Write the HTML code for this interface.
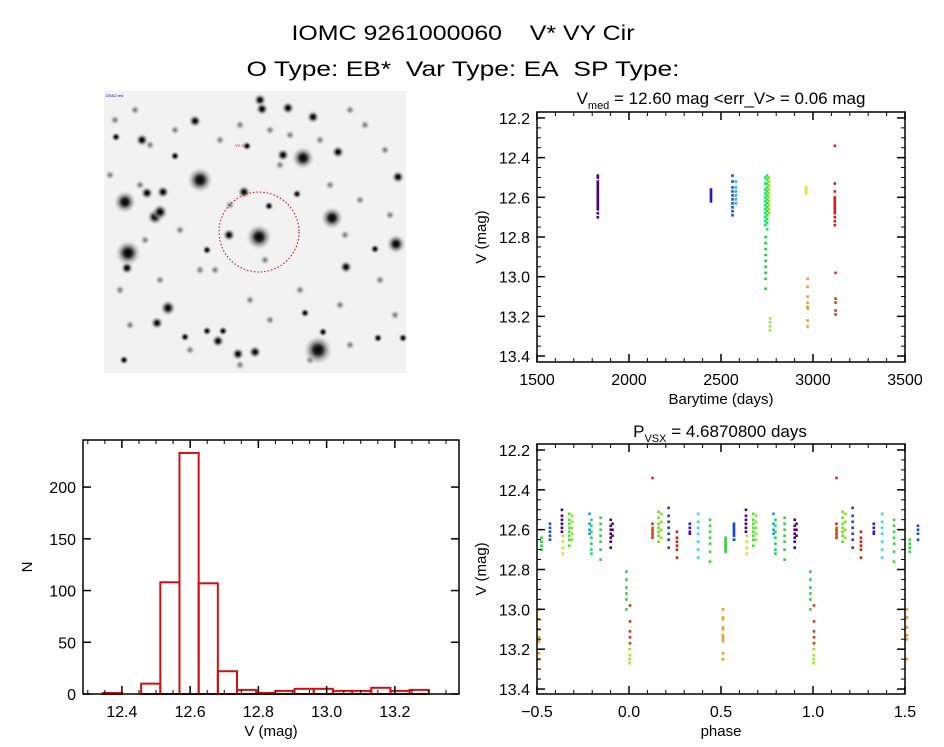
<!DOCTYPE html>
<html><head><meta charset="utf-8"><style>
html,body{margin:0;padding:0;background:#fff;}
svg{display:block;font-family:"Liberation Sans",sans-serif;}
</style></head><body>
<svg id="root" width="944" height="747" viewBox="0 0 944 747">
<text x="463" y="40" font-size="21" text-anchor="middle" textLength="343" lengthAdjust="spacingAndGlyphs">IOMC 9261000060&#160;&#160;&#160; V* VY Cir</text>
<text x="463" y="76" font-size="21" text-anchor="middle" textLength="433" lengthAdjust="spacingAndGlyphs">O Type: EB*&#160; Var Type: EA&#160; SP Type:</text>

<g>
<defs><radialGradient id="sg"><stop offset="0" stop-color="#000"/><stop offset="0.3" stop-color="#222"/><stop offset="0.65" stop-color="#888" stop-opacity="0.6"/><stop offset="1" stop-color="#ccc" stop-opacity="0"/></radialGradient>
<radialGradient id="fg"><stop offset="0" stop-color="#666"/><stop offset="0.5" stop-color="#999" stop-opacity="0.6"/><stop offset="1" stop-color="#ddd" stop-opacity="0"/></radialGradient></defs>
<rect x="104" y="91" width="302" height="282" fill="#f2f2f2"/>
<g id="stars"></g>
<circle cx="259" cy="232" r="40" fill="none" stroke="#c00" stroke-width="1" stroke-dasharray="1.5 2"/>
<text x="106" y="97" font-size="4" fill="#00a">DSS2 red</text>
<text x="235" y="147" font-size="4" fill="#c00">VY Cir</text>
</g>

<g id="p1"></g>
<g id="p2"></g>
<g id="p3"></g>
</svg>
<script>
// ---- data ----
const starX=[200,303,125,155,160,128,259,332,396,318,168,283,260,262,288,313,195,163,147,127,229,244,297,218,238,255,185,157,207,223,305,346,375,398,338,323,378,403,142,175,207,247,269,116,124];
const starY=[180,158,202,217,212,253,237,218,244,350,308,155,100,109,108,117,121,192,193,268,235,192,194,341,354,352,337,323,331,331,313,267,249,177,152,332,338,338,140,156,250,146,206,137,360];
const starR=[8,7,7,5,5,8,8,7,6,9,5,4,4,4,4,4,4,4,4,4,4,4,3,4,4,4,3,4,3,3,3,4,3,4,4,3,3,3,4,3,3,3,3,3,3];
const faintX=[115,135,150,175,220,240,270,290,320,350,365,385,110,140,180,230,280,330,360,390,120,160,200,250,300,340,380,130,190,240,270,310,350,395,145,215,265,345];
const faintY=[120,110,145,130,140,125,130,135,140,110,125,150,175,185,230,205,165,185,200,215,290,280,270,300,290,305,280,325,350,365,320,360,345,315,240,270,260,235];

const lcGroupT=[1830,2445,2562,2580,2740,2750,2760,2742,2766,2962,2970,3118,3122];
const lcGroupMags=[
 [12.49,12.50,12.52,12.53,12.54,12.55,12.56,12.57,12.58,12.59,12.60,12.61,12.62,12.63,12.64,12.65,12.66,12.68,12.70],
 [12.56,12.57,12.58,12.59,12.60,12.61,12.62],
 [12.49,12.52,12.55,12.57,12.59,12.61,12.63,12.65,12.67,12.69],
 [12.52,12.55,12.57,12.59,12.61,12.63],
 [12.50,12.53,12.56,12.58,12.60,12.62,12.64,12.66,12.68,12.70,12.72,12.74],
 [12.49,12.51,12.53,12.55,12.57,12.59,12.61,12.63,12.65,12.67,12.69,12.71,12.73,12.76],
 [12.50,12.52,12.54,12.56,12.58,12.60,12.62,12.64,12.66,12.68],
 [12.80,12.83,12.86,12.89,12.92,12.95,12.98,13.01,13.06],
 [13.21,13.23,13.25,13.27],
 [12.55,12.56,12.57,12.58],
 [13.01,13.05,13.10,13.13,13.15,13.16,13.22,13.25],
 [12.34,12.53,12.57,12.60,12.61,12.62,12.63,12.64,12.65,12.66,12.67,12.68,12.70,12.72,12.74],
 [12.98,13.11,13.13,13.17,13.19]
];
const lcGroupColor=["#4a0078","#2a18c0","#1050d8","#30a8f0","#20d8a0","#30e040","#90e020","#20d040","#a0e040","#e8e020","#e8a030","#d82010","#c04020"];

const phGroupP=[-0.476,-0.43,-0.365,-0.36,-0.325,-0.31,-0.215,-0.205,-0.155,-0.10,-0.09,-0.015,0.003,0.005,-0.49,0.127,0.128,0.16,0.175,0.215,0.26,0.33,0.375,0.44,0.525,0.51,0.57];
const phGroupMags=[
 [12.64,12.66,12.68,12.70],
 [12.57,12.59,12.61,12.63,12.65],
 [12.50,12.53,12.55,12.57,12.59,12.61],
 [12.63,12.66,12.69,12.72],
 [12.52,12.55,12.57,12.59,12.61,12.63,12.65,12.68],
 [12.53,12.56,12.59,12.62,12.65],
 [12.52,12.57,12.60,12.62],
 [12.55,12.58,12.61,12.64,12.67,12.70,12.72],
 [12.54,12.57,12.60,12.63,12.66,12.70,12.75],
 [12.55,12.58,12.60,12.62,12.64,12.66,12.69],
 [12.57,12.60,12.63],
 [12.81,12.85,12.89,12.92,12.95,13.00],
 [13.20,13.23,13.25,13.27],
 [12.98,13.06,13.11,13.14,13.17],
 [13.00,13.05,13.10,13.14,13.16,13.22,13.25],
 [12.34,12.57,12.60,12.62,12.64],
 [12.59,12.61,12.63],
 [12.51,12.54,12.57,12.59,12.61,12.63,12.66],
 [12.52,12.56,12.60,12.64],
 [12.49,12.53,12.56,12.59,12.62,12.65,12.69],
 [12.61,12.64,12.66,12.68,12.70,12.74],
 [12.57,12.59,12.61,12.62],
 [12.52,12.56,12.59,12.62,12.66,12.70,12.74],
 [12.55,12.58,12.61,12.64,12.67,12.71,12.76],
 [12.65,12.67,12.69,12.71],
 [13.00,13.04,13.09,13.13,13.15,13.25],
 [12.58,12.60,12.62,12.65]
];
const phGroupColor=["#30d040","#1848d0","#4a0078","#c8e040","#50e040","#90e030","#2090f0","#30d060","#30d040","#4a0078","#600080","#30d040","#a0e040","#c04020","#e8a030","#d83010","#e06020","#60e030","#90e020","#1848c0","#d82010","#3a10b0","#30e0d0","#40d040","#40d040","#e8a030","#1848d0"];

const histEdgeStart=12.344, histBinW=0.0562;
const histCounts=[1,0,10,108,233,107,22,4,1,3,5,5,3,3,6,3,4];

const NS="http://www.w3.org/2000/svg";
function el(tag,attrs,parent){const e=document.createElementNS(NS,tag);for(const k in attrs)e.setAttribute(k,attrs[k]);parent.appendChild(e);return e;}

// stars
const sg=document.getElementById('stars');
for(let i=0;i<faintX.length;i++){
 const c=el('circle',{cx:faintX[i],cy:faintY[i],r:5,fill:'url(#fg)'},sg);
 
 
}
for(let i=0;i<starX.length;i++){
 const c=el('circle',{cx:starX[i],cy:starY[i],r:starR[i]*1.6,fill:'url(#sg)'},sg);
 
 
}

function frame(g,x0,y0,x1,y1,xs,ys,xt,yt,xmin,ymin,fmtX,fmtY,xl,yl,invertY){
 const r=el('rect',{x:x0,y:y0,width:x1-x0,height:y1-y0,fill:'none',stroke:'#000','stroke-width':1.5},g);
 
 for(const t of xt.major){const X=xs(t);
  el('line',{x1:X,x2:X,y1:y1,y2:y1-8,stroke:'#000','stroke-width':1.5},g);
  el('line',{x1:X,x2:X,y1:y0,y2:y0+8,stroke:'#000','stroke-width':1.5},g);
  const tx=el('text',{x:X,y:y1+23,'font-size':16,'text-anchor':'middle'},g);tx.textContent=fmtX(t);
  }
 for(const t of xt.minor){const X=xs(t);
  el('line',{x1:X,x2:X,y1:y1,y2:y1-4,stroke:'#000'},g);
  el('line',{x1:X,x2:X,y1:y0,y2:y0+4,stroke:'#000'},g);}
 for(const t of yt.major){const Y=ys(t);
  el('line',{x1:x0,x2:x0+8,y1:Y,y2:Y,stroke:'#000','stroke-width':1.5},g);
  el('line',{x1:x1,x2:x1-8,y1:Y,y2:Y,stroke:'#000','stroke-width':1.5},g);
  const tx=el('text',{x:x0-7,y:Y+6,'font-size':16,'text-anchor':'end'},g);tx.textContent=fmtY(t);
  }
 for(const t of yt.minor){const Y=ys(t);
  el('line',{x1:x0,x2:x0+4,y1:Y,y2:Y,stroke:'#000'},g);
  el('line',{x1:x1,x2:x1-4,y1:Y,y2:Y,stroke:'#000'},g);}
 const a=el('text',{x:(x0+x1)/2,y:y1+42,'font-size':15,'text-anchor':'middle'},g);a.textContent=xl;
 
 const b=el('text',{x:0,y:0,'font-size':15,'text-anchor':'middle',transform:`translate(${x0-51},${(y0+y1)/2}) rotate(-90)`},g);b.textContent=yl;
 
}
function range(a,b,s){const r=[];for(let v=a;v<=b+1e-9;v+=s)r.push(+v.toFixed(4));return r;}
function dot(g,x,y,c){const d=el('rect',{x:x-1.2,y:y-1.2,width:2.6,height:2.6,fill:c},g);
 }

// panel 1: time
(function(){
 const g=document.getElementById('p1');
 const x0=537,x1=905,y0=112,y1=362,vmin=12.17,vmax=13.43;
 const xs=t=>x0+(t-1500)/2000*(x1-x0), ys=v=>y0+(v-vmin)/(vmax-vmin)*(y1-y0);
 for(let i=0;i<lcGroupT.length;i++)for(const m of lcGroupMags[i])dot(g,xs(lcGroupT[i]),ys(m),lcGroupColor[i]);
 frame(g,x0,y0,x1,y1,xs,ys,{major:range(1500,3500,500),minor:range(1600,3400,100)},{major:range(12.2,13.4,0.2),minor:range(12.25,13.4,0.05)},0,0,t=>String(t),v=>v.toFixed(1),'Barytime (days)','V (mag)');
 const t=el('text',{x:721,y:104,'font-size':17,'text-anchor':'middle'},g);
 t.innerHTML='V<tspan font-size="11" dy="5">med</tspan><tspan dy="-5"> = 12.60 mag &lt;err_V&gt; = 0.06 mag</tspan>';
 
})();

// panel 3: phase
(function(){
 const g=document.getElementById('p3');
 const x0=537,x1=905,y0=444,y1=694,vmin=12.17,vmax=13.425;
 const xs=p=>x0+(p+0.5)/2*(x1-x0), ys=v=>y0+(v-vmin)/(vmax-vmin)*(y1-y0);
 for(let i=0;i<phGroupP.length;i++)for(const m of phGroupMags[i]){
  dot(g,xs(phGroupP[i]),ys(m),phGroupColor[i]);dot(g,xs(phGroupP[i]+1),ys(m),phGroupColor[i]);}
 frame(g,x0,y0,x1,y1,xs,ys,{major:range(-0.5,1.5,0.5),minor:range(-0.4,1.4,0.1)},{major:range(12.2,13.4,0.2),minor:range(12.25,13.4,0.05)},0,0,t=>(t<0?'\u2212':'')+Math.abs(t).toFixed(1),v=>v.toFixed(1),'phase','V (mag)');
 const t=el('text',{x:720,y:437,'font-size':17,'text-anchor':'middle'},g);
 t.innerHTML='P<tspan font-size="11" dy="5">VSX</tspan><tspan dy="-5"> = 4.6870800 days</tspan>';
 
})();

// panel 2: histogram
(function(){
 const g=document.getElementById('p2');
 const x0=83,x1=459,y0=440,y1=694,xmin=12.286,xmax=13.388,ymax=245.5;
 const xs=m=>x0+(m-xmin)/(xmax-xmin)*(x1-x0), ys=n=>y1-n/ymax*(y1-y0);
 for(let i=0;i<histCounts.length;i++){
  const a=xs(histEdgeStart+i*histBinW),b=xs(histEdgeStart+(i+1)*histBinW);
  const r=el('rect',{x:a,y:ys(histCounts[i]),width:b-a,height:ys(0)-ys(histCounts[i]),fill:'none',stroke:'#d01010','stroke-width':2},g);
  
 }
 frame(g,x0,y0,x1,y1,xs,ys,{major:range(12.4,13.2,0.2),minor:range(12.3,13.35,0.05)},{major:range(0,200,50),minor:[]},0,0,t=>t.toFixed(1),v=>String(v),'V (mag)','N');
})();
</script>
</body></html>
